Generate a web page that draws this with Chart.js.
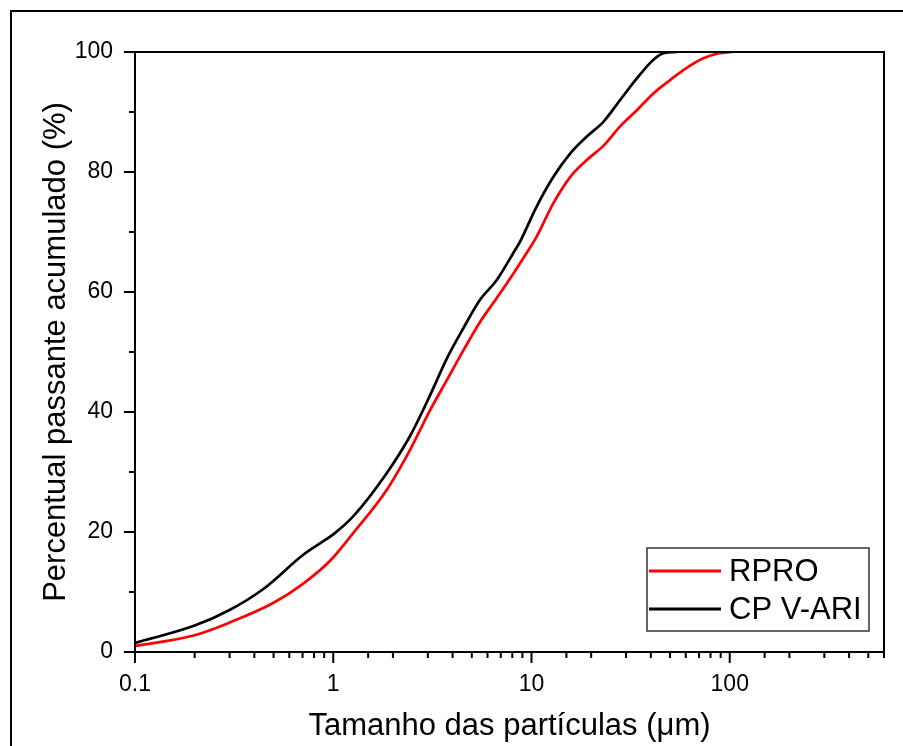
<!DOCTYPE html>
<html>
<head>
<meta charset="utf-8">
<script src="https://cdn.jsdelivr.net/npm/chart.js@4.4.0/dist/chart.umd.min.js"></script>
<style>
  html, body { margin: 0; padding: 0; background: #fff; }
  #wrap { width: 903px; height: 746px; }
</style>
</head>
<body>
<div id="wrap"><canvas id="psd" width="903" height="746"></canvas></div>
<script>
// series (size in µm, cumulative passing in %)
const seriesNames = ['RPRO', 'CP V-ARI'];
const seriesColors = ['#ff0000', '#000000'];

const rproSize = [0.1, 0.2, 0.3, 0.5, 0.706, 0.964, 1.26, 1.86, 2.44, 3.08, 3.74, 4.54, 5.5, 6.68, 8.11, 9.66, 10.6, 12.9, 15.7, 19.0, 23.1, 28.0, 34.0, 41.2, 49.9, 60.4, 73.1, 88.6, 102];
const rproPassing = [1.0, 2.8, 4.9, 8.2, 11.4, 15.2, 19.8, 27.0, 33.7, 40.3, 45.3, 50.3, 55.0, 59.0, 63.1, 67.0, 69.2, 74.8, 79.2, 82.0, 84.4, 87.6, 90.3, 93.1, 95.3, 97.3, 98.9, 99.8, 100];

const cpvSize = [0.1, 0.2, 0.3, 0.444, 0.706, 0.857, 1.0, 1.26, 1.86, 2.44, 3.08, 3.74, 4.54, 5.5, 6.68, 8.27, 8.76, 10.6, 12.9, 15.7, 19.0, 23.1, 28.0, 34.0, 41.2, 46.3, 54];
const cpvPassing = [1.5, 4.4, 7.0, 10.5, 16.2, 18.1, 19.6, 22.6, 29.8, 36.0, 42.8, 48.9, 54.0, 58.7, 62.0, 67.0, 68.4, 74.2, 79.2, 83.1, 85.9, 88.4, 92.0, 95.6, 98.7, 99.8, 100];

const xLabelTicks = [0.1, 1, 10, 100];
const yLabelTicks = [0, 20, 40, 60, 80, 100];

const FONT = "'Liberation Sans', Arial, sans-serif";

const toPoints = (xs, ys) => xs.map((x, i) => ({ x: x, y: ys[i] }));
const isLabelX = v => xLabelTicks.some(t => Math.abs(t - v) < 1e-9 * Math.max(1, t));

// outer frame, plot box, tick marks, legend
const decorations = {
    id: 'decorations',
    beforeDraw(chart) {
        const ctx = chart.ctx;
        ctx.save();
        ctx.fillStyle = '#fff';
        ctx.fillRect(0, 0, chart.width, chart.height);
        ctx.strokeStyle = '#000';
        ctx.lineWidth = 2;
        ctx.beginPath();
        ctx.moveTo(11, chart.height + 2);
        ctx.lineTo(11, 11);
        ctx.lineTo(chart.width + 2, 11);
        ctx.stroke();
        ctx.restore();
    },
    afterDraw(chart) {
        const ctx = chart.ctx;
        const a = chart.chartArea;
        const xs = chart.scales.x;
        const ys = chart.scales.y;
        ctx.save();
        ctx.strokeStyle = '#000';
        ctx.lineWidth = 2;
        ctx.strokeRect(a.left, a.top, a.right - a.left, a.bottom - a.top);

        ctx.beginPath();
        xs.ticks.forEach(t => {
            const px = xs.getPixelForValue(t.value);
            const len = isLabelX(t.value) ? 11 : 6;
            ctx.moveTo(px, a.bottom);
            ctx.lineTo(px, a.bottom + len);
        });
        ys.ticks.forEach(t => {
            const py = ys.getPixelForValue(t.value);
            const len = yLabelTicks.includes(t.value) ? 11 : 6;
            ctx.moveTo(a.left, py);
            ctx.lineTo(a.left - len, py);
        });
        ctx.stroke();

        // legend box
        const box = { x: 647, y: 548, w: 222, h: 83 };
        ctx.lineWidth = 1.5;
        ctx.strokeStyle = '#333';
        ctx.strokeRect(box.x, box.y, box.w, box.h);
        ctx.font = '31px ' + FONT;
        ctx.textBaseline = 'middle';
        ctx.textAlign = 'left';
        chart.data.datasets.forEach((ds, i) => {
            const yy = 571 + i * 38;
            ctx.strokeStyle = ds.borderColor;
            ctx.lineWidth = 3;
            ctx.beginPath();
            ctx.moveTo(649, yy);
            ctx.lineTo(721, yy);
            ctx.stroke();
            ctx.fillStyle = '#000';
            ctx.fillText(ds.label, 729, yy + 1);
        });
        ctx.restore();
    }
};

new Chart(document.getElementById('psd'), {
    type: 'line',
    data: {
        datasets: [
            {
                label: seriesNames[0],
                data: toPoints(rproSize, rproPassing),
                borderColor: seriesColors[0],
                borderWidth: 2.7,
                pointRadius: 0,
                fill: false,
                cubicInterpolationMode: 'monotone'
            },
            {
                label: seriesNames[1],
                data: toPoints(cpvSize, cpvPassing),
                borderColor: seriesColors[1],
                borderWidth: 2.7,
                pointRadius: 0,
                fill: false,
                cubicInterpolationMode: 'monotone'
            }
        ]
    },
    options: {
        responsive: false,
        animation: false,
        devicePixelRatio: 1,
        layout: { padding: { top: 52, right: 19, bottom: 0, left: 0 } },
        plugins: {
            legend: { display: false },
            tooltip: { enabled: false }
        },
        scales: {
            x: {
                type: 'logarithmic',
                min: 0.1,
                max: 600,
                afterFit: s => { s.height = 94; },
                border: { display: false },
                grid: { drawOnChartArea: false, drawTicks: true, tickLength: 11, tickColor: 'rgba(0,0,0,0)' },
                ticks: {
                    autoSkip: false,
                    maxRotation: 0,
                    padding: 8,
                    color: '#000',
                    font: { family: FONT, size: 23 },
                    callback: v => isLabelX(v) ? String(v) : ''
                },
                title: {
                    display: true,
                    text: 'Tamanho das partículas (μm)',
                    color: '#000',
                    font: { family: FONT, size: 31 },
                    padding: { top: 0, bottom: 1 }
                }
            },
            y: {
                min: 0,
                max: 100,
                afterFit: s => { s.width = 135; },
                border: { display: false },
                grid: { drawOnChartArea: false, drawTicks: true, tickLength: 11, tickColor: 'rgba(0,0,0,0)' },
                ticks: {
                    stepSize: 10,
                    autoSkip: false,
                    padding: 11,
                    color: '#000',
                    font: { family: FONT, size: 23 },
                    callback: v => yLabelTicks.includes(v) ? String(v) : ''
                },
                title: {
                    display: true,
                    text: 'Percentual passante acumulado (%)',
                    color: '#000',
                    font: { family: FONT, size: 31 },
                    padding: { top: 38, bottom: 0 }
                }
            }
        }
    },
    plugins: [decorations]
});
</script>
</body>
</html>
